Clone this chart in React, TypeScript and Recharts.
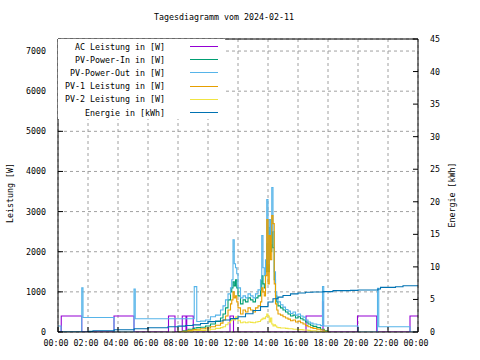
import React from 'react';
import { LineChart, Line, XAxis, YAxis, CartesianGrid, Legend } from 'recharts';

// 5-10 minute samples during daylight, shared by the PV series
const dayTimes = [
  '08:00', '08:20', '08:40', '09:00', '09:05', '09:15', '09:30', '09:50', '10:10', '10:30',
  '10:50', '11:00', '11:10', '11:20', '11:30', '11:35', '11:40', '11:45', '11:50', '11:55',
  '12:00', '12:10', '12:20', '12:30', '12:40', '12:50', '13:00', '13:10', '13:20', '13:30',
  '13:35', '13:40', '13:45', '13:50', '13:55', '14:00', '14:05', '14:10', '14:15', '14:20',
  '14:25', '14:30', '14:35', '14:40', '14:50', '15:00', '15:10', '15:20', '15:30', '15:40',
  '15:50', '16:00', '16:10', '16:20', '16:30', '16:40', '16:50', '17:00', '17:15', '17:30',
  '17:45', '18:00',
];

const pvInDay = [
  0, 30, 70, 90, 100, 110, 120, 150, 200, 260,
  350, 450, 600, 800, 1000, 1100, 1250, 1150, 1300, 1100,
  900, 700, 800, 750, 850, 800, 750, 850, 900, 1050,
  1400, 1200, 1100, 1500, 2200, 1500, 2600, 2000, 2500, 2100,
  1300, 900, 750, 650, 600, 550, 500, 450, 400, 420,
  350, 380, 330, 300, 250, 200, 170, 140, 110, 70,
  30, 0,
];

const pvOutDay = [
  330, 330, 330, 330, 1130, 260, 270, 300, 380, 420,
  550, 650, 800, 950, 1100, 1300, 2300, 1700, 1600, 1450,
  1100, 850, 900, 850, 950, 900, 850, 950, 1050, 1300,
  2400, 1600, 1400, 1800, 3300, 1700, 2800, 2200, 3600, 2500,
  1500, 1000, 850, 750, 680, 620, 560, 520, 460, 500,
  420, 450, 400, 370, 300, 250, 220, 200, 180, 160,
  150, 150,
];

const pv1Day = [
  0, 20, 40, 60, 60, 70, 80, 100, 130, 170,
  220, 300, 400, 550, 700, 800, 1000, 850, 900, 750,
  600, 450, 550, 500, 600, 550, 500, 600, 650, 750,
  1100, 1000, 900, 1400, 2800, 1200, 2400, 1800, 2900, 2700,
  1200, 700, 550, 450, 420, 380, 350, 320, 280, 300,
  250, 270, 230, 200, 160, 130, 110, 90, 70, 50,
  20, 0,
];

const pv2Day = [
  0, 10, 20, 30, 30, 40, 40, 50, 70, 90,
  110, 130, 180, 230, 280, 300, 320, 300, 380, 350,
  280, 230, 250, 230, 250, 240, 230, 250, 260, 300,
  320, 350, 330, 380, 450, 400, 250, 350, 200, 150,
  180, 150, 120, 110, 100, 100, 90, 80, 80, 70,
  70, 60, 60, 50, 50, 40, 30, 30, 20, 10,
  10, 0,
];

// step changes outside the day block
const acSteps: [string, number][] = [
  ['00:00', 0], ['00:13', 400], ['01:35', 0], ['03:44', 400], ['05:04', 0],
  ['07:22', 400], ['07:48', 0], ['08:17', 400], ['08:32', 0], ['08:35', 400],
  ['09:01', 0], ['11:28', 400], ['11:42', 0], ['16:32', 400], ['17:38', 750],
  ['17:40', 0], ['19:58', 400], ['21:15', 0], ['23:28', 400], ['24:00', 400],
];

const pvOutNight: [string, number][] = [
  ['00:00', 150], ['00:12', 0], ['01:35', 1100], ['01:40', 360], ['03:44', 0],
  ['05:04', 1070], ['05:09', 330], ['17:38', 1130], ['17:43', 150], ['20:00', 0],
  ['21:18', 1090], ['21:23', 130], ['23:28', 0], ['24:00', 0],
];

const energyTimes = [
  '00:00', '02:00', '02:20', '03:45', '05:05', '06:00', '07:20', '08:00', '08:30', '09:00',
  '09:30', '10:00', '10:30', '11:00', '11:30', '12:00', '12:30', '13:00', '13:30', '14:00',
  '14:20', '14:40', '15:00', '15:30', '16:00', '16:30', '17:00', '17:40', '18:20', '19:30',
  '20:00', '21:20', '21:30', '22:30', '23:00', '24:00',
];
const energyValues = [
  0, 0.1, 0.2, 0.35, 0.5, 0.65, 0.8, 0.9, 1.0, 1.1,
  1.3, 1.6, 1.7, 1.85, 2.05, 2.35, 2.8, 3.3, 3.9, 4.6,
  5.1, 5.35, 5.6, 5.85, 6.0, 6.1, 6.15, 6.2, 6.35, 6.4,
  6.45, 6.6, 6.85, 6.95, 7.1, 7.15,
];

const seriesNames = [
  'AC Leistung in [W]',
  'PV-Power-In in [W]',
  'PV-Power-Out in [W]',
  'PV-1 Leistung in [W]',
  'PV-2 Leistung in [W]',
  'Energie in [kWh]',
];
const seriesColors = ['#9400d3', '#009e73', '#56b4e9', '#e69f00', '#f0e442', '#0072b2'];

const xTicks = [0, 2, 4, 6, 8, 10, 12, 14, 16, 18, 20, 22, 24];
const wTicks = [0, 1000, 2000, 3000, 4000, 5000, 6000, 7000];
const eTicks = [0, 5, 10, 15, 20, 25, 30, 35, 40, 45];

const FONT = '"DejaVu Sans Mono", monospace';
const FS = 8.3;

const toHours = (s: string) => {
  const [h, m] = s.split(':').map(Number);
  return h + m / 60;
};
const fromDay = (vals: number[]) => dayTimes.map((t, i) => ({ t: toHours(t), v: vals[i] }));
const fromSteps = (steps: [string, number][]) => steps.map(([t, v]) => ({ t: toHours(t), v }));
const byTime = (a: { t: number }, b: { t: number }) => a.t - b.t;

const acData = fromSteps(acSteps);
const pvInData = fromDay(pvInDay);
const pvOutData = [...fromSteps(pvOutNight), ...fromDay(pvOutDay)].sort(byTime);
const pv1Data = fromDay(pv1Day);
const pv2Data = fromDay(pv2Day);
const energyData = energyTimes.map((t, i) => ({ t: toHours(t), v: energyValues[i] }));

const fmtTime = (v: number) => `${String(v % 24).padStart(2, '0')}:00`;
const tickStyle = { fontFamily: FONT, fontSize: FS, fill: '#000' };

// gnuplot key: plot order, not alphabetical
const renderLegend = () => (
  <div
    style={{
      background: '#fff',
      width: 167,
      height: 80,
      paddingTop: 1,
      boxSizing: 'border-box',
      fontFamily: FONT,
      fontSize: FS,
      color: '#000',
    }}
  >
    {seriesNames.map((name, i) => (
      <div key={name} style={{ display: 'flex', alignItems: 'center', height: 13.2 }}>
        <span style={{ width: 107, textAlign: 'right', whiteSpace: 'pre' }}>{name}</span>
        <span style={{ marginLeft: 25, width: 28, height: 0, borderTop: `1px solid ${seriesColors[i]}` }} />
      </div>
    ))}
  </div>
);

export default function App() {
  const common = {
    type: 'stepAfter' as const,
    dataKey: 'v',
    dot: false,
    strokeWidth: 1.1,
    isAnimationActive: false,
    xAxisId: 'b',
    legendType: 'line' as const,
  };
  const datasets = [acData, pvInData, pvOutData, pv1Data, pv2Data, energyData];
  return (
    <div
      style={{
        position: 'absolute',
        left: 0,
        top: 0,
        width: 480,
        height: 360,
        background: '#fff',
        fontFamily: FONT,
        fontSize: FS,
        color: '#000',
      }}
    >
      <LineChart width={480} height={360} margin={{ top: 38, right: 12, bottom: 8, left: 8 }}>
        <CartesianGrid xAxisId="b" yAxisId="w" stroke="#a0a0a0" strokeDasharray="3 3" />
        <XAxis
          xAxisId="b"
          dataKey="t"
          type="number"
          domain={[0, 24]}
          allowDataOverflow
          ticks={xTicks}
          tickFormatter={fmtTime}
          height={20}
          stroke="#000"
          tickSize={-5}
          tickMargin={13}
          tick={{ ...tickStyle, dx: -2 }}
          interval={0}
        />
        <XAxis
          xAxisId="top"
          orientation="top"
          type="number"
          domain={[0, 24]}
          allowDataOverflow
          ticks={xTicks}
          tickFormatter={() => ''}
          height={1}
          stroke="#000"
          tickSize={-5}
          interval={0}
        />
        <YAxis
          yAxisId="w"
          type="number"
          domain={[0, 7300]}
          allowDataOverflow
          ticks={wTicks}
          width={50}
          stroke="#000"
          tickSize={-5}
          tickMargin={17}
          tick={tickStyle}
          interval={0}
        />
        <YAxis
          yAxisId="e"
          orientation="right"
          type="number"
          domain={[0, 45]}
          allowDataOverflow
          ticks={eTicks}
          width={50}
          stroke="#000"
          tickSize={-5}
          tickMargin={17}
          tick={tickStyle}
          interval={0}
        />
        <Legend
          layout="horizontal"
          verticalAlign="middle"
          align="center"
          wrapperStyle={{ left: 58, top: 39, width: 167, height: 80 }}
          content={renderLegend}
        />
        {seriesNames.map((name, i) => (
          <Line
            key={name}
            {...common}
            yAxisId={i === 5 ? 'e' : 'w'}
            data={datasets[i]}
            name={name}
            stroke={seriesColors[i]}
          />
        ))}
      </LineChart>
      <div style={{ position: 'absolute', left: 0, top: 12, width: 448, textAlign: 'center', whiteSpace: 'pre' }}>
        Tagesdiagramm vom 2024-02-11
      </div>
      <div
        style={{
          position: 'absolute',
          left: 10,
          top: 193,
          transform: 'translate(-50%, -50%) rotate(-90deg)',
          whiteSpace: 'pre',
        }}
      >
        Leistung [W]
      </div>
      <div
        style={{
          position: 'absolute',
          left: 452,
          top: 195,
          transform: 'translate(-50%, -50%) rotate(-90deg)',
          whiteSpace: 'pre',
        }}
      >
        Energie [kWh]
      </div>
    </div>
  );
}
